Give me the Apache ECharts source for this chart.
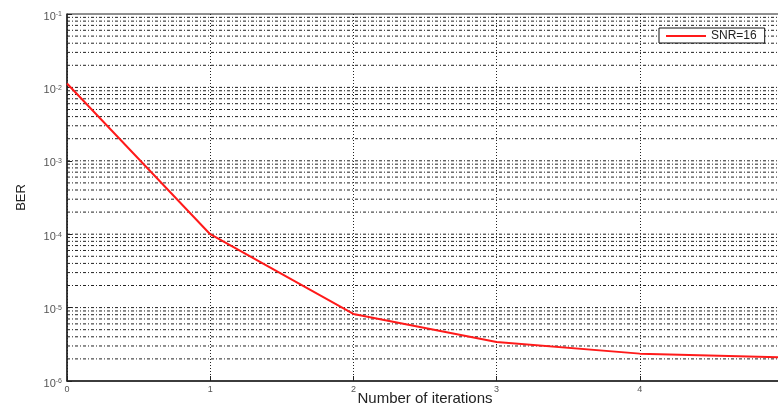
<!DOCTYPE html>
<html><head><meta charset="utf-8">
<script src="https://cdn.jsdelivr.net/npm/echarts@6/dist/echarts.min.js"></script>
<style>html,body{margin:0;padding:0;background:#fff;overflow:hidden}#c{width:778px;height:412px}</style>
</head><body><div id="c"></div>
<script>
const iterations = [0, 1, 2, 3, 4, 5];
const berSNR16 = [1.13e-2, 1.0e-4, 8.2e-6, 3.4e-6, 2.36e-6, 2.1e-6];
const seriesName = 'SNR=16';
const decades = [-6, -5, -4, -3, -2, -1];
const minorMultipliers = [1, 2, 3, 4, 5, 6, 7, 8, 9];

const gridValues = [];
decades.slice(0, -1).forEach(d => minorMultipliers.forEach(m => {
  if (!(m === 1 && d === -6)) gridValues.push(m * Math.pow(10, d));
}));

const gridStyle = { color: '#222', width: 1, type: [3, 2, 1, 2] };

const gridSeries = gridValues.map(v => ({
  type: 'line', silent: true, symbol: 'none', showSymbol: false,
  data: [[0, v], [5, v]],
  lineStyle: gridStyle, z: 1, legendHoverLink: false, tooltip: { show: false }
}));

const chart = echarts.init(document.getElementById('c'));
chart.setOption({
  animation: false,
  grid: { left: 67, right: -5, top: 14, bottom: 31, outerBoundsMode: 'none', containLabel: false, show: true, borderColor: '#222', borderWidth: 1, backgroundColor: 'transparent' },
  legend: {
    data: [{ name: seriesName, icon: 'rect' }],
    left: 659, top: 28, itemWidth: 40, itemHeight: 2, itemGap: 4,
    borderColor: '#111', borderWidth: 1, borderRadius: 0, padding: [2, 8, 1, 7],
    backgroundColor: '#fff',
    textStyle: { fontFamily: 'Liberation Sans, Arial', fontSize: 12, color: '#222' }
  },
  xAxis: {
    type: 'value', min: 0, max: 5, interval: 1,
    name: 'Number of iterations', nameLocation: 'middle', nameGap: 10, nameMoveOverlap: false,
    nameTextStyle: { fontFamily: 'Liberation Sans, Arial', fontSize: 15, color: '#222', verticalAlign: 'top' },
    axisLine: { show: true, lineStyle: { color: '#222', width: 1.5 } },
    axisTick: { show: true, inside: true, length: 5, lineStyle: { color: '#222' } },
    axisLabel: { fontFamily: 'Liberation Sans, Arial', fontSize: 9, color: '#555', margin: 4 },
    splitLine: { show: true, lineStyle: { color: '#222', width: 1, type: [1, 2] } }
  },
  yAxis: {
    type: 'log', logBase: 10, min: 1e-6, max: 1e-1,
    name: 'BER', nameLocation: 'middle', nameGap: 39,
    nameTextStyle: { fontFamily: 'Liberation Sans, Arial', fontSize: 13, color: '#222' },
    axisLine: { show: true, lineStyle: { color: '#222', width: 1.5 } },
    axisTick: { show: true, inside: true, length: 5, lineStyle: { color: '#222' } },
    axisLabel: {
      margin: 5,
      formatter: v => '{b|10}{s|' + Math.round(Math.log10(v)) + '}',
      rich: {
        b: { fontFamily: 'Liberation Sans, Arial', fontSize: 11, color: '#555', padding: [5, 0, 0, 0] },
        s: { fontFamily: 'Liberation Sans, Arial', fontSize: 7, color: '#555', verticalAlign: 'bottom', padding: [0, 0, 4, 0] }
      }
    },
    splitLine: { show: false }
  },
  series: gridSeries.concat([
    {
      name: seriesName, type: 'line',
      data: iterations.map((x, i) => [x, berSNR16[i]]),
      showSymbol: false, symbol: 'none',
      lineStyle: { color: '#ff1a1a', width: 2 },
      itemStyle: { color: '#ff1a1a' },
      z: 5
    }
  ])
});
</script></body></html>
